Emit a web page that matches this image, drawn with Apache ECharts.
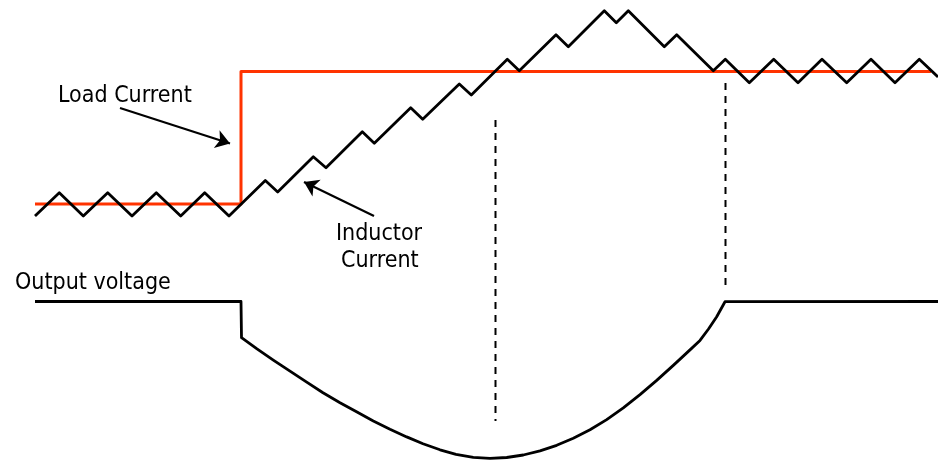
<!DOCTYPE html>
<html>
<head>
<meta charset="utf-8">
<script src="https://cdn.jsdelivr.net/npm/echarts@6/dist/echarts.min.js"></script>
<style>
    html, body { margin: 0; padding: 0; background: #fff; }
    #chart { width: 938px; height: 461px; }
</style>
</head>
<body>
<div id="chart"></div>
<script>
// diagram drawn in a 938 x 461 value space (y grows downwards)
var inductorCurrent = [
    [35, 216], [59.3, 192.7], [83.3, 216], [107.7, 192.7], [132, 216], [156.3, 192.7],
    [180.7, 216], [204.7, 192.7], [229, 216], [265.3, 180.5], [277.7, 192],
    [313.3, 156.7], [326, 167.7], [362.3, 131.7], [374.3, 143.3], [410.7, 107.7],
    [422.7, 119.3], [459.3, 84], [471.3, 95], [507.3, 59.3], [519.3, 70.7],
    [556, 34.7], [568.3, 46.7], [604.3, 10.7], [616.3, 22.7], [628.3, 10.7],
    [664.3, 46.7], [676.7, 34.7], [713.3, 70.7], [725.3, 59.3], [749.3, 82.7],
    [773.7, 59.3], [798, 82.7], [822, 59.3], [846.7, 82.7], [871, 59.3],
    [895, 82.7], [919.3, 59.3], [938, 77]
];
var loadCurrent = [[35, 204], [241, 204], [241, 71.5], [931, 71.5]];
var outputVoltage = [
    [35, 301.5], [241, 301.5], [241.5, 337.7], [257, 348.9], [273.3, 360.1],
    [290, 371.2], [306.7, 382.2], [323, 392.7], [340, 402.7], [357, 412.1],
    [373.3, 420.9], [390, 429.2], [406.7, 436.9], [423, 443.8], [440, 449.8],
    [456, 454.3], [473.3, 457.3], [490, 458.4], [506.7, 457.5], [523.3, 455],
    [540, 450.9], [556.7, 445.3], [573.3, 438.3], [590, 429.8], [606.7, 419.6],
    [623.3, 407.8], [640, 394.6], [656.7, 380.4], [673.3, 365.4], [690, 349.9],
    [700, 340.4], [708.5, 329], [716.7, 316.7], [725, 301.7], [938, 301.5]
];
var markerA = [[495.5, 120], [495.5, 421]];
var markerB = [[725.5, 83], [725.5, 288]];
var arrows = [
    [[120, 108], [230, 143.5]],
    [[374, 216], [304, 182]]
];
var labels = [
    ['Load Current', 58, 96],
    ['Output voltage', 15, 283],
    ['Inductor', 336, 234],
    ['Current', 341, 261]
];

var black = '#000000';
var red = '#ff3300';

function lineSeries(data, color, width, dash, z) {
    return {
        type: 'line',
        data: data,
        symbol: 'none',
        silent: true,
        z: z,
        lineStyle: { color: color, width: width, type: dash || 'solid', join: 'round' }
    };
}

var chartDom = document.getElementById('chart');
var myChart = echarts.init(chartDom);
var option;

option = {
    animation: false,
    backgroundColor: '#ffffff',
    grid: { left: 0, right: 0, top: 0, bottom: 0 },
    xAxis: { type: 'value', min: 0, max: 938, show: false },
    yAxis: { type: 'value', min: 0, max: 461, inverse: true, show: false },
    series: [
        lineSeries(loadCurrent, red, 3, null, 2),
        lineSeries(inductorCurrent, black, 2.8, null, 3),
        lineSeries(outputVoltage, black, 2.8, null, 3),
        lineSeries(markerA, black, 2, [7, 6], 3),
        lineSeries(markerB, black, 2, [7, 6], 3),
        {
            type: 'lines',
            coordinateSystem: 'cartesian2d',
            silent: true,
            z: 4,
            symbol: ['none', 'arrow'],
            symbolSize: 14,
            lineStyle: { color: black, width: 2.2, opacity: 1 },
            data: arrows.map(function (a) { return { coords: a }; })
        },
        {
            type: 'scatter',
            silent: true,
            symbolSize: 0,
            z: 5,
            itemStyle: { opacity: 1 },
            data: labels.map(function (l) { return { name: l[0], value: [l[1], l[2]] }; }),
            label: {
                show: true,
                position: 'inside',
                align: 'left',
                verticalAlign: 'middle',
                formatter: '{b}',
                color: '#000',
                fontFamily: 'DejaVu Sans Condensed',
                fontSize: 23
            }
        }
    ]
};

option && myChart.setOption(option);
</script>
</body>
</html>
